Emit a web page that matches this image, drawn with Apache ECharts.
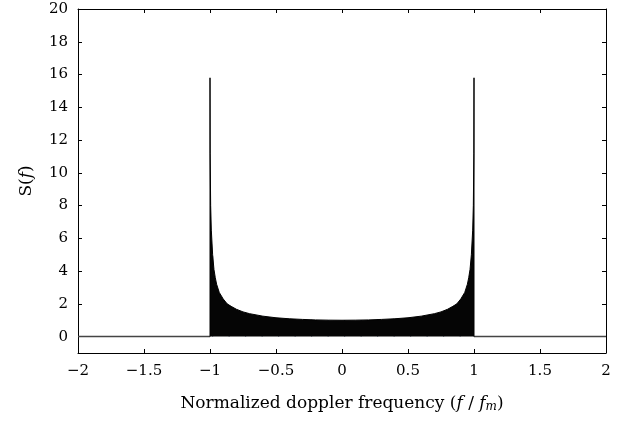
<!DOCTYPE html>
<html><head><meta charset="utf-8">
<script src="https://cdn.jsdelivr.net/npm/echarts@6/dist/echarts.min.js"></script>
<style>html,body{margin:0;padding:0;background:#fff}#c{width:630px;height:421px}</style>
</head><body><div id="c"></div>
<script>
// Spectrum samples (normalized frequency, S(f))
var freq = [-1.0, -0.999, -0.995, -0.99, -0.98, -0.97, -0.96, -0.95, -0.93, -0.9, -0.87, -0.84, -0.8, -0.75, -0.7, -0.6, -0.5, -0.4, -0.3, -0.2, -0.1, 0,
            0.1, 0.2, 0.3, 0.4, 0.5, 0.6, 0.7, 0.75, 0.8, 0.84, 0.87, 0.9, 0.93, 0.95, 0.96, 0.97, 0.98, 0.99, 0.995, 0.999, 1.0];
var spec = [15.8, 11.2, 8.0, 6.5, 5.0, 4.1, 3.6, 3.2, 2.7, 2.3, 2.0, 1.85, 1.67, 1.51, 1.40, 1.25, 1.15, 1.09, 1.05, 1.02, 1.005, 1.0,
            1.005, 1.02, 1.05, 1.09, 1.15, 1.25, 1.40, 1.51, 1.67, 1.85, 2.0, 2.3, 2.7, 3.2, 3.6, 4.1, 5.0, 6.5, 8.0, 11.2, 15.8];
// Thin stems visible inside the filled region
var stemFreq = [-0.98, -0.855, -0.73, -0.605, -0.48, -0.355, -0.23, -0.105, 0.02, 0.145, 0.27, 0.395, 0.52, 0.645, 0.77, 0.895];
var stemVal = [4.9, 1.9, 1.46, 1.25, 1.14, 1.07, 1.03, 1.0, 1.0, 1.01, 1.04, 1.09, 1.17, 1.3, 1.56, 2.2];
// Zero baseline outside the band
var baseLeft = [[-2, 0], [-1, 0]];
var baseRight = [[1, 0], [2, 0]];
var yTicks = [0, 2, 4, 6, 8, 10, 12, 14, 16, 18, 20];

var FONT = 'DejaVu Serif';
var specData = [[-1, 0]];
for (var i = 0; i < freq.length; i++) specData.push([freq[i], spec[i]]);
specData.push([1, 0]);
var stemData = stemFreq.map(function (f, i) { return [f, stemVal[i]]; });

function fmt(v) { return String(v).replace('-', '\u2212'); }

var chart = echarts.init(document.getElementById('c'), null, {renderer: 'canvas'});
var lbl = {color: '#000', fontFamily: FONT, fontSize: 15};
chart.setOption({
  animation: false,
  grid: {left: 78, right: 24, top: 9, bottom: 68},
  xAxis: [{
    type: 'value', min: -2, max: 2, interval: 0.5, position: 'bottom',
    axisLine: {show: true, onZero: false, lineStyle: {color: '#000', width: 1}},
    axisTick: {show: true, inside: true, length: 4, lineStyle: {color: '#000'}},
    axisLabel: Object.assign({margin: 11, formatter: fmt}, lbl),
    splitLine: {show: false},
    name: '{n|Normalized doppler frequency (}{i|f}{n| / }{i|f}{s|m}{n|)}',
    nameLocation: 'middle', nameGap: 41,
    nameTextStyle: {rich: {
      n: {fontFamily: FONT, fontSize: 17, color: '#000'},
      i: {fontFamily: FONT, fontSize: 17, fontStyle: 'italic', color: '#000'},
      s: {fontFamily: FONT, fontSize: 12, fontStyle: 'italic', color: '#000', padding: [7, 0, 0, 0]}
    }}
  }, {
    type: 'value', min: -2, max: 2, interval: 0.5, position: 'top',
    axisLine: {show: true, onZero: false, lineStyle: {color: '#000', width: 1}},
    axisTick: {show: true, inside: true, length: 4, lineStyle: {color: '#000'}},
    axisLabel: {show: false}, splitLine: {show: false}
  }],
  yAxis: [{
    type: 'value', min: -1, max: 20, position: 'left',
    axisLine: {show: true, onZero: false, lineStyle: {color: '#000', width: 1}},
    axisTick: {show: true, inside: true, length: 4, customValues: yTicks, lineStyle: {color: '#000'}},
    axisLabel: Object.assign({margin: 10, customValues: yTicks}, lbl),
    splitLine: {show: false},
    name: '{n|S(}{i|f}{n|)}', nameLocation: 'middle', nameGap: 43, nameRotate: 90,
    nameTextStyle: {rich: {
      n: {fontFamily: FONT, fontSize: 17, color: '#000'},
      i: {fontFamily: FONT, fontSize: 17, fontStyle: 'italic', color: '#000'}
    }}
  }, {
    type: 'value', min: -1, max: 20, position: 'right',
    axisLine: {show: true, onZero: false, lineStyle: {color: '#000', width: 1}},
    axisTick: {show: true, inside: true, length: 4, customValues: yTicks, lineStyle: {color: '#000'}},
    axisLabel: {show: false}, splitLine: {show: false}
  }],
  series: [{
    type: 'line', data: baseLeft, symbol: 'none', silent: true,
    lineStyle: {color: '#444', width: 1.5}
  }, {
    type: 'line', data: baseRight, symbol: 'none', silent: true,
    lineStyle: {color: '#444', width: 1.5}
  }, {
    type: 'line', data: specData, symbol: 'none', silent: true,
    lineStyle: {color: '#000', width: 1},
    areaStyle: {color: '#050505', opacity: 1, origin: 0}
  }, {
    type: 'bar', data: stemData, barWidth: 1, silent: true,
    itemStyle: {color: '#24365a'}
  }]
});
</script></body></html>
